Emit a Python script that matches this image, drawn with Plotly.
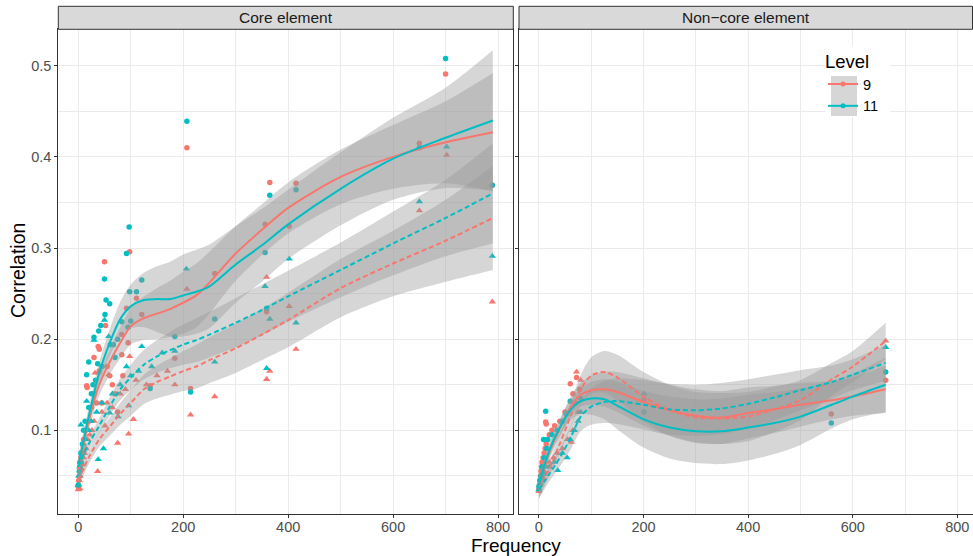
import plotly.graph_objects as go

W, H = 973, 556
RED = "#F8766D"
TEAL = "#00BFC4"
BAND = "rgba(153,153,153,0.4)"

panels = ["Core element", "Non\u2212core element"]
levels = ["9", "11"]
x_ticks = [0, 200, 400, 600, 800]
y_ticks = [0.1, 0.2, 0.3, 0.4, 0.5]

# ---------------- points: Core element ----------------
core_L9_circ_x = [0, 1, 2, 3, 4, 5, 6, 8, 10, 12, 16, 17, 20, 25, 30, 30, 35, 38, 40, 40,
                  45, 50, 52, 55, 60, 65, 70, 75, 83, 83, 85, 92, 95, 98, 111, 121, 137, 184, 207, 214,
                  260, 356, 359, 365, 402, 415, 650, 700, 789]
core_L9_circ_y = [0.038, 0.045, 0.05, 0.06, 0.055, 0.07, 0.065, 0.075, 0.09, 0.1,
                  0.149, 0.147, 0.11, 0.125, 0.14, 0.18, 0.13, 0.192, 0.189, 0.165,
                  0.13, 0.285, 0.215, 0.17, 0.16, 0.15, 0.14, 0.12, 0.205, 0.183,
                  0.16, 0.234, 0.196, 0.296, 0.245, 0.227, 0.149, 0.179, 0.41, 0.146,
                  0.272, 0.326, 0.23, 0.372, 0.324, 0.371, 0.415, 0.491, 0.369]
core_L11_circ_x = [0, 2, 3, 5, 8, 10, 13, 16, 20, 20, 25, 28, 30, 33, 37, 39, 43, 45, 50, 51,
                   53, 60, 61, 67, 70, 75, 83, 92, 95, 98, 100, 111, 121, 137, 184, 207, 214, 260, 356, 359,
                   365, 97, 415, 650, 700, 789]
core_L11_circ_y = [0.04, 0.055, 0.065, 0.075, 0.085, 0.1, 0.11, 0.161, 0.125, 0.175,
                   0.14, 0.15, 0.202, 0.155, 0.173, 0.209, 0.215, 0.17, 0.266, 0.227,
                   0.243, 0.239, 0.194, 0.194, 0.18, 0.2, 0.219, 0.294, 0.213, 0.252,
                   0.22, 0.252, 0.265, 0.146, 0.203, 0.439, 0.142, 0.222, 0.295, 0.234,
                   0.358, 0.323, 0.364, 0.41, 0.508, 0.369]
core_L9_tri_x = [0, 1, 2, 3, 4, 6, 8, 10, 12, 15, 18, 22, 26, 30, 32, 37, 38, 45, 51, 55,
                 58, 65, 75, 80, 90, 96, 98, 105, 110, 130, 150, 170, 184, 207, 214, 260, 359, 359, 365, 402,
                 415, 650, 702, 789]
core_L9_tri_y = [0.035, 0.04, 0.045, 0.036, 0.05, 0.058, 0.062, 0.07, 0.075, 0.08,
                 0.09, 0.095, 0.1, 0.11, 0.163, 0.055, 0.163, 0.12, 0.105, 0.13,
                 0.161, 0.125, 0.086, 0.14, 0.145, 0.096, 0.181, 0.112, 0.155, 0.15,
                 0.16, 0.165, 0.15, 0.255, 0.117, 0.137, 0.268, 0.156, 0.165, 0.236,
                 0.189, 0.341, 0.402, 0.241]
core_L11_tri_x = [0, 1, 3, 5, 5, 8, 10, 14, 16, 20, 25, 30, 35, 38, 45, 48, 50, 58, 60, 65,
                  76, 80, 92, 96, 100, 115, 121, 140, 160, 184, 206, 260, 356, 359, 365, 402, 415, 650, 702, 789]
core_L11_tri_y = [0.04, 0.05, 0.06, 0.065, 0.106, 0.075, 0.085, 0.09, 0.132, 0.1,
                  0.11, 0.199, 0.12, 0.068, 0.13, 0.08, 0.221, 0.203, 0.119, 0.14,
                  0.115, 0.15, 0.17, 0.127, 0.16, 0.165, 0.192, 0.17, 0.185, 0.187,
                  0.277, 0.175, 0.258, 0.168, 0.222, 0.288, 0.218, 0.351, 0.411, 0.291]

# ---------------- points: Non-core element ----------------
nc_L9_circ_x = [0, 1, 2, 3, 4, 5, 6, 8, 10, 12, 13, 14, 14, 16, 20, 25, 30, 40, 50, 60,
                65, 72, 78, 201, 559, 663]
nc_L9_circ_y = [0.035, 0.04, 0.045, 0.05, 0.055, 0.06, 0.065, 0.07, 0.075, 0.08,
                0.109, 0.107, 0.085, 0.09, 0.095, 0.1, 0.105, 0.11, 0.12, 0.151,
                0.14, 0.158, 0.145, 0.133, 0.118, 0.155]
nc_L11_circ_x = [0, 2, 4, 6, 9, 10, 13, 15, 17, 25, 35, 45, 52, 60, 70, 80, 201, 559, 663]
nc_L11_circ_y = [0.038, 0.045, 0.05, 0.06, 0.09, 0.07, 0.121, 0.08, 0.09, 0.095,
                 0.1, 0.11, 0.118, 0.132, 0.13, 0.135, 0.12, 0.108, 0.164]
nc_L9_tri_x = [0, 2, 4, 6, 10, 15, 20, 28, 35, 45, 55, 62, 65, 72, 75, 80, 201, 663]
nc_L9_tri_y = [0.033, 0.04, 0.045, 0.05, 0.055, 0.06, 0.065, 0.07, 0.075, 0.08,
               0.09, 0.087, 0.1, 0.164, 0.12, 0.155, 0.135, 0.198]
nc_L11_tri_x = [0, 3, 6, 10, 20, 30, 36, 45, 54, 60, 68, 75, 80, 201, 663]
nc_L11_tri_y = [0.035, 0.042, 0.048, 0.052, 0.06, 0.065, 0.056, 0.075, 0.07, 0.09,
                0.1, 0.11, 0.12, 0.14, 0.191]

# ---------------- smoothed fits ----------------
core_fit_x = [0, 20, 40, 60, 80, 100, 125, 150, 175, 200, 225, 250, 300, 350, 400, 500, 600, 700, 790]
core_L11_circ_fit = [0.060, 0.115, 0.163, 0.196, 0.222, 0.236, 0.243, 0.244, 0.244, 0.248,
                     0.252, 0.258, 0.282, 0.303, 0.326, 0.365, 0.398, 0.421, 0.440]
core_L11_circ_hw = [0.012, 0.010, 0.012, 0.015, 0.019, 0.024, 0.030, 0.036, 0.041, 0.045,
                    0.046, 0.046, 0.042, 0.040, 0.038, 0.040, 0.045, 0.055, 0.077]
core_L9_circ_fit = [0.057, 0.110, 0.150, 0.175, 0.196, 0.214, 0.223, 0.228, 0.233, 0.240,
                    0.248, 0.262, 0.294, 0.320, 0.344, 0.378, 0.400, 0.416, 0.427]
core_L9_circ_hw = [0.012, 0.010, 0.012, 0.014, 0.017, 0.020, 0.024, 0.028, 0.031, 0.034,
                   0.035, 0.034, 0.030, 0.028, 0.028, 0.030, 0.035, 0.045, 0.065]
core_L11_tri_fit = [0.060, 0.085, 0.105, 0.126, 0.145, 0.158, 0.172, 0.181, 0.188, 0.194,
                    0.199, 0.205, 0.218, 0.232, 0.247, 0.276, 0.305, 0.333, 0.360]
core_L11_tri_hw = [0.008, 0.007, 0.008, 0.010, 0.012, 0.014, 0.016, 0.018, 0.020, 0.022,
                   0.024, 0.025, 0.027, 0.028, 0.028, 0.030, 0.035, 0.042, 0.055]
core_L9_tri_fit = [0.045, 0.070, 0.090, 0.104, 0.118, 0.130, 0.145, 0.153, 0.159, 0.165,
                   0.170, 0.177, 0.190, 0.205, 0.221, 0.256, 0.283, 0.308, 0.333]
core_L9_tri_hw = [0.008, 0.007, 0.008, 0.010, 0.012, 0.014, 0.016, 0.018, 0.020, 0.022,
                  0.024, 0.025, 0.027, 0.028, 0.030, 0.032, 0.036, 0.045, 0.057]

nc_fit_x = [0, 20, 40, 60, 80, 100, 125, 150, 200, 250, 300, 350, 400, 450, 500, 560, 600, 663]
nc_L11_circ_fit = [0.040, 0.078, 0.103, 0.122, 0.132, 0.135, 0.134, 0.127, 0.112, 0.103,
                   0.099, 0.099, 0.103, 0.108, 0.115, 0.128, 0.137, 0.150]
nc_L11_circ_hw = [0.010, 0.008, 0.009, 0.011, 0.014, 0.018, 0.022, 0.026, 0.031, 0.034,
                  0.035, 0.036, 0.036, 0.034, 0.031, 0.026, 0.025, 0.030]
nc_L9_circ_fit = [0.040, 0.076, 0.102, 0.125, 0.139, 0.144, 0.145, 0.142, 0.131, 0.122,
                  0.116, 0.114, 0.119, 0.123, 0.128, 0.133, 0.137, 0.145]
nc_L9_circ_hw = [0.010, 0.008, 0.009, 0.011, 0.013, 0.016, 0.019, 0.022, 0.026, 0.028,
                 0.029, 0.029, 0.028, 0.026, 0.024, 0.021, 0.021, 0.026]
nc_L9_tri_fit = [0.035, 0.058, 0.085, 0.115, 0.145, 0.160, 0.164, 0.158, 0.137, 0.122,
                 0.114, 0.113, 0.115, 0.123, 0.133, 0.156, 0.170, 0.198]
nc_L9_tri_hw = [0.010, 0.008, 0.010, 0.013, 0.016, 0.020, 0.023, 0.025, 0.027, 0.028,
                0.028, 0.028, 0.027, 0.025, 0.022, 0.018, 0.017, 0.020]
nc_L11_tri_fit = [0.035, 0.052, 0.070, 0.091, 0.115, 0.126, 0.131, 0.132, 0.128, 0.123,
                  0.122, 0.124, 0.129, 0.136, 0.144, 0.153, 0.161, 0.174]
nc_L11_tri_hw = [0.010, 0.008, 0.010, 0.013, 0.016, 0.020, 0.023, 0.025, 0.027, 0.028,
                 0.028, 0.028, 0.027, 0.025, 0.022, 0.018, 0.017, 0.020]

fig = go.Figure()

def pts(x, y, color, symbol, size, xa, ya):
    fig.add_trace(go.Scatter(x=x, y=y, mode="markers", xaxis=xa, yaxis=ya,
                             marker=dict(color=color, symbol=symbol, size=size, line=dict(width=0)),
                             showlegend=False, hoverinfo="skip"))

def band(fx, fit, hw, xa, ya):
    lo = [f - h for f, h in zip(fit, hw)]
    hi = [f + h for f, h in zip(fit, hw)]
    fig.add_trace(go.Scatter(x=fx, y=lo, mode="lines", xaxis=xa, yaxis=ya,
                             line=dict(width=0, shape="spline", smoothing=0.8),
                             showlegend=False, hoverinfo="skip"))
    fig.add_trace(go.Scatter(x=fx, y=hi, mode="lines", xaxis=xa, yaxis=ya, fill="tonexty",
                             fillcolor=BAND, line=dict(width=0, shape="spline", smoothing=0.8),
                             showlegend=False, hoverinfo="skip"))

def fitline(fx, fit, color, dash, xa, ya):
    fig.add_trace(go.Scatter(x=fx, y=fit, mode="lines", xaxis=xa, yaxis=ya,
                             line=dict(color=color, width=2, dash=dash, shape="spline", smoothing=0.8),
                             showlegend=False, hoverinfo="skip"))

# points
pts(core_L9_circ_x, core_L9_circ_y, RED, "circle", 5.5, "x", "y")
pts(core_L9_tri_x, core_L9_tri_y, RED, "triangle-up", 6.5, "x", "y")
pts(core_L11_circ_x, core_L11_circ_y, TEAL, "circle", 5.5, "x", "y")
pts(core_L11_tri_x, core_L11_tri_y, TEAL, "triangle-up", 6.5, "x", "y")
pts(nc_L9_circ_x, nc_L9_circ_y, RED, "circle", 5.5, "x2", "y2")
pts(nc_L9_tri_x, nc_L9_tri_y, RED, "triangle-up", 6.5, "x2", "y2")
pts(nc_L11_circ_x, nc_L11_circ_y, TEAL, "circle", 5.5, "x2", "y2")
pts(nc_L11_tri_x, nc_L11_tri_y, TEAL, "triangle-up", 6.5, "x2", "y2")

# bands
band(core_fit_x, core_L9_circ_fit, core_L9_circ_hw, "x", "y")
band(core_fit_x, core_L9_tri_fit, core_L9_tri_hw, "x", "y")
band(core_fit_x, core_L11_circ_fit, core_L11_circ_hw, "x", "y")
band(core_fit_x, core_L11_tri_fit, core_L11_tri_hw, "x", "y")
band(nc_fit_x, nc_L9_circ_fit, nc_L9_circ_hw, "x2", "y2")
band(nc_fit_x, nc_L9_tri_fit, nc_L9_tri_hw, "x2", "y2")
band(nc_fit_x, nc_L11_circ_fit, nc_L11_circ_hw, "x2", "y2")
band(nc_fit_x, nc_L11_tri_fit, nc_L11_tri_hw, "x2", "y2")

DASH = "5px,3px"
fitline(core_fit_x, core_L9_circ_fit, RED, "solid", "x", "y")
fitline(core_fit_x, core_L9_tri_fit, RED, DASH, "x", "y")
fitline(core_fit_x, core_L11_circ_fit, TEAL, "solid", "x", "y")
fitline(core_fit_x, core_L11_tri_fit, TEAL, DASH, "x", "y")
fitline(nc_fit_x, nc_L9_circ_fit, RED, "solid", "x2", "y2")
fitline(nc_fit_x, nc_L9_tri_fit, RED, DASH, "x2", "y2")
fitline(nc_fit_x, nc_L11_circ_fit, TEAL, "solid", "x2", "y2")
fitline(nc_fit_x, nc_L11_tri_fit, TEAL, DASH, "x2", "y2")

# legend entries
for lev, col in zip(levels, [RED, TEAL]):
    fig.add_trace(go.Scatter(x=[None], y=[None], mode="lines+markers", name=lev,
                             line=dict(color=col, width=2), marker=dict(color=col, size=5),
                             xaxis="x2", yaxis="y2", showlegend=True))

FONT = "Liberation Sans, Arial, Helvetica, sans-serif"
px = lambda v: v / W
py = lambda v: 1 - v / H

left_dom = [px(58.3), px(513.3)]
right_dom = [px(519), px(972.5)]
y_dom = [py(513.7), py(29.3)]
XR = [-38, 829]
YR = [0.0085, 0.540]

TICKFONT = dict(family=FONT, size=14.5, color="#4D4D4D")
common_x = dict(range=XR, tickvals=x_ticks, ticktext=[str(t) for t in x_ticks],
                showgrid=True, gridcolor="#EBEBEB", gridwidth=1.1, zeroline=False,
                minor=dict(dtick=100, tick0=0, showgrid=True, gridcolor="#EBEBEB", gridwidth=0.55),
                ticks="outside", ticklen=3, tickcolor="#333333", tickwidth=1,
                ticklabelstandoff=-3,
                showline=True, mirror=True, linecolor="#333333", linewidth=1,
                tickfont=TICKFONT)
common_y = dict(range=YR, tickvals=y_ticks, ticktext=[f"{t:.1f}" for t in y_ticks],
                showgrid=True, gridcolor="#EBEBEB", gridwidth=1.1, zeroline=False,
                minor=dict(dtick=0.1, tick0=0.05, showgrid=True, gridcolor="#EBEBEB", gridwidth=0.55),
                ticks="outside", ticklen=3, tickcolor="#333333", tickwidth=1,
                showline=True, mirror=True, linecolor="#333333", linewidth=1,
                tickfont=TICKFONT)

fig.update_layout(
    width=W, height=H, margin=dict(l=0, r=0, t=0, b=0),
    paper_bgcolor="white", plot_bgcolor="white",
    xaxis=dict(domain=left_dom, anchor="y", **common_x),
    xaxis2=dict(domain=right_dom, anchor="y2", **common_x),
    yaxis=dict(domain=y_dom, anchor="x", **common_y),
    yaxis2=dict(domain=y_dom, anchor="x2", showticklabels=False, **{k: v for k, v in common_y.items() if k != "tickfont"}),
    legend=dict(x=px(823), y=py(44), xanchor="left", yanchor="top", traceorder="normal",
                bgcolor="rgba(0,0,0,0)", borderwidth=0,
                title=dict(text="Level", font=dict(family=FONT, size=18.5, color="black")),
                font=dict(family=FONT, size=14.5, color="black"), tracegroupgap=0),
    font=dict(family=FONT),
)

shapes = []
for dom, label in zip([left_dom, right_dom], panels):
    shapes.append(dict(type="rect", xref="paper", yref="paper", x0=dom[0], x1=dom[1],
                       y0=py(29.3), y1=py(6.3), fillcolor="#D9D9D9",
                       line=dict(color="#333333", width=1), layer="above"))
# legend background and key background
shapes.append(dict(type="rect", xref="paper", yref="paper", x0=px(826), x1=px(890),
                   y0=py(117), y1=py(46), fillcolor="white", line=dict(width=0), layer="above"))
shapes.append(dict(type="rect", xref="paper", yref="paper", x0=px(831), x1=px(857),
                   y0=py(116), y1=py(76), fillcolor="#D6D6D6", line=dict(width=0), layer="above"))
fig.update_layout(shapes=shapes)

annotations = []
for dom, label in zip([left_dom, right_dom], panels):
    annotations.append(dict(text=label, xref="paper", yref="paper", x=(dom[0] + dom[1]) / 2,
                            y=py(17.8), showarrow=False, xanchor="center", yanchor="middle",
                            font=dict(family=FONT, size=15.5, color="#1A1A1A")))
annotations.append(dict(text="Frequency", xref="paper", yref="paper", x=px(515.5), y=py(545),
                        showarrow=False, xanchor="center", yanchor="middle",
                        font=dict(family=FONT, size=19, color="black")))
annotations.append(dict(text="Correlation", xref="paper", yref="paper", x=px(18), y=py(271),
                        showarrow=False, xanchor="center", yanchor="middle", textangle=-90,
                        font=dict(family=FONT, size=19.5, color="black")))
fig.update_layout(annotations=annotations)

fig.write_html("out.html", config={"displayModeBar": False},
               post_script="document.body.style.margin='0px';document.body.style.overflow='hidden';")
